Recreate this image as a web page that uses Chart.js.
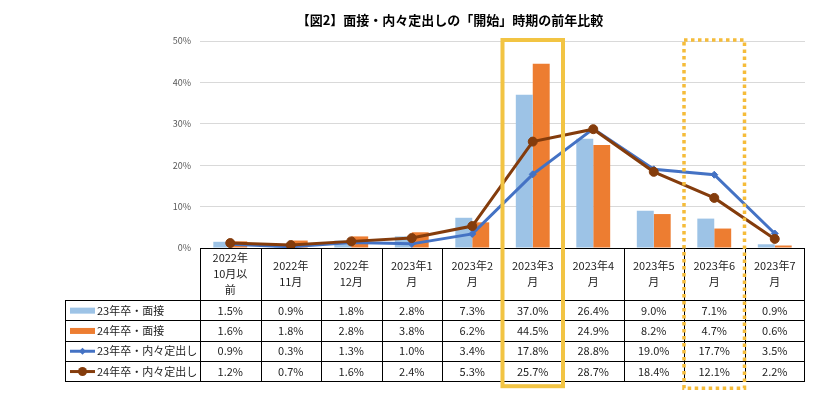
<!DOCTYPE html>
<html><head><meta charset="utf-8">
<script src="https://cdn.jsdelivr.net/npm/chart.js@4"></script>
<style>html,body{margin:0;padding:0;background:#fff}canvas{display:block}</style>
</head><body>
<canvas id="c" width="817" height="401"></canvas>
<script>
const categories=[["2022年","10月以","前"],["2022年","11月"],["2022年","12月"],["2023年1","月"],["2023年2","月"],["2023年3","月"],["2023年4","月"],["2023年5","月"],["2023年6","月"],["2023年7","月"]];
const interview23=[1.5,0.9,1.8,2.8,7.3,37.0,26.4,9.0,7.1,0.9];
const interview24=[1.6,1.8,2.8,3.8,6.2,44.5,24.9,8.2,4.7,0.6];
const offer23=[0.9,0.3,1.3,1.0,3.4,17.8,28.8,19.0,17.7,3.5];
const offer24=[1.2,0.7,1.6,2.4,5.3,25.7,28.7,18.4,12.1,2.2];
const seriesNames=["23年卒・面接","24年卒・面接","23年卒・内々定出し","24年卒・内々定出し"];
const yMax=50, yStep=10;
const chartTitle="【図2】面接・内々定出しの「開始」時期の前年比較";
const highlightSolid=5, highlightDotted=8;

const FONT='"Noto Sans CJK JP","Noto Sans",sans-serif';
const colors={i23:'#9DC3E6',i24:'#ED7D31',o23:'#4472C4',o24:'#843C0C'};

const tablePlugin={
  id:'tablePlugin',
  afterDraw(chart){
    const ctx=chart.ctx, ca=chart.chartArea, xs=chart.scales.x;
    const n=categories.length, w=(ca.right-ca.left)/n;
    const top=ca.bottom, headH=52, rowH=20.3, legL=65;
    const rowsY=[top+headH];
    for(let r=1;r<=4;r++) rowsY.push(top+headH+rowH*r);
    const bottom=rowsY[4];
    ctx.save();
    ctx.strokeStyle='#000'; ctx.lineWidth=1;
    ctx.beginPath();
    ctx.moveTo(ca.left,top+0.5); ctx.lineTo(ca.right,top+0.5);
    rowsY.forEach(y=>{ctx.moveTo(legL,Math.round(y)+0.5);ctx.lineTo(ca.right,Math.round(y)+0.5);});
    for(let i=0;i<=n;i++){
      const x=Math.round(xs.getPixelForValue(i)-w/2)+0.5;
      const xx= i===n? Math.round(ca.right)-0.5 : x;
      ctx.moveTo(xx,top); ctx.lineTo(xx,bottom);
    }
    ctx.moveTo(legL+0.5,rowsY[0]); ctx.lineTo(legL+0.5,bottom);
    ctx.stroke();
    // header text
    ctx.fillStyle='#222'; ctx.font='11px '+FONT; ctx.textAlign='center'; ctx.textBaseline='middle';
    const lh=16;
    categories.forEach((lab,i)=>{
      const cx=xs.getPixelForValue(i), cy=top+headH/2;
      lab.forEach((t,k)=>ctx.fillText(t,cx,cy+(k-(lab.length-1)/2)*lh));
    });
    // data rows
    const series=[interview23,interview24,offer23,offer24];
    series.forEach((s,r)=>{
      const cy=(rowsY[r]+rowsY[r+1])/2+0.5;
      s.forEach((v,i)=>ctx.fillText(v.toFixed(1)+'%',xs.getPixelForValue(i),cy));
      // legend key
      ctx.save();
      const kx=70, kw=25;
      if(r<2){
        ctx.fillStyle=r===0?colors.i23:colors.i24;
        ctx.fillRect(kx,cy-3,kw,6);
      } else {
        const c=r===2?colors.o23:colors.o24;
        ctx.strokeStyle=c; ctx.lineWidth=3;
        ctx.beginPath(); ctx.moveTo(kx,cy); ctx.lineTo(kx+kw,cy); ctx.stroke();
        ctx.fillStyle=c; ctx.beginPath();
        const mx=kx+kw/2;
        if(r===2){ctx.moveTo(mx,cy-3.5);ctx.lineTo(mx+3.5,cy);ctx.lineTo(mx,cy+3.5);ctx.lineTo(mx-3.5,cy);ctx.closePath();}
        else ctx.arc(mx,cy,4.5,0,Math.PI*2);
        ctx.fill();
      }
      ctx.restore();
      ctx.textAlign='left';
      ctx.fillText(seriesNames[r],kx+kw+2,cy);
      ctx.textAlign='center';
    });
    // highlight boxes
    const boxTop=ca.top-1;
    let x0=xs.getPixelForValue(highlightSolid)-w/2;
    ctx.strokeStyle='#F2C443'; ctx.lineWidth=4;
    ctx.strokeRect(x0,boxTop,w,bottom+5-boxTop);
    x0=xs.getPixelForValue(highlightDotted)-w/2;
    ctx.strokeStyle='#F5BC3A'; ctx.lineWidth=3.5; ctx.setLineDash([3.5,3.5]);
    ctx.strokeRect(x0,boxTop,w,bottom+7-boxTop);
    ctx.setLineDash([]);
    // title
    ctx.fillStyle='#000'; ctx.font='bold 13px '+FONT; ctx.textAlign='center';
    ctx.fillText(chartTitle,450,20);
    ctx.restore();
  }
};

new Chart(document.getElementById('c'),{
  type:'bar',
  data:{
    labels:categories,
    datasets:[
      {type:'line',label:seriesNames[2],data:offer23,borderColor:colors.o23,backgroundColor:colors.o23,borderWidth:3,pointStyle:'rectRot',pointRadius:3.5,pointBorderWidth:1,order:1,tension:0},
      {type:'line',label:seriesNames[3],data:offer24,borderColor:colors.o24,backgroundColor:colors.o24,borderWidth:3,pointStyle:'circle',pointRadius:4.5,pointBorderWidth:1,order:0,tension:0},
      {label:seriesNames[0],data:interview23,backgroundColor:colors.i23,order:2,categoryPercentage:0.56,barPercentage:1},
      {label:seriesNames[1],data:interview24,backgroundColor:colors.i24,order:2,categoryPercentage:0.56,barPercentage:1}
    ]
  },
  options:{
    responsive:false, animation:false,
    layout:{padding:{left:0,right:12,top:41,bottom:153}},
    plugins:{legend:{display:false},tooltip:{enabled:false},title:{display:false}},
    scales:{
      x:{display:false,offset:true},
      y:{min:0,max:yMax,ticks:{stepSize:yStep,callback:v=>v+'%',font:{size:9,family:FONT},color:'#595959',padding:9},
         grid:{color:'#D9D9D9',drawTicks:false},border:{display:false},
         afterFit(s){s.width=200;}}
    }
  },
  plugins:[tablePlugin]
});
</script>
</body></html>
